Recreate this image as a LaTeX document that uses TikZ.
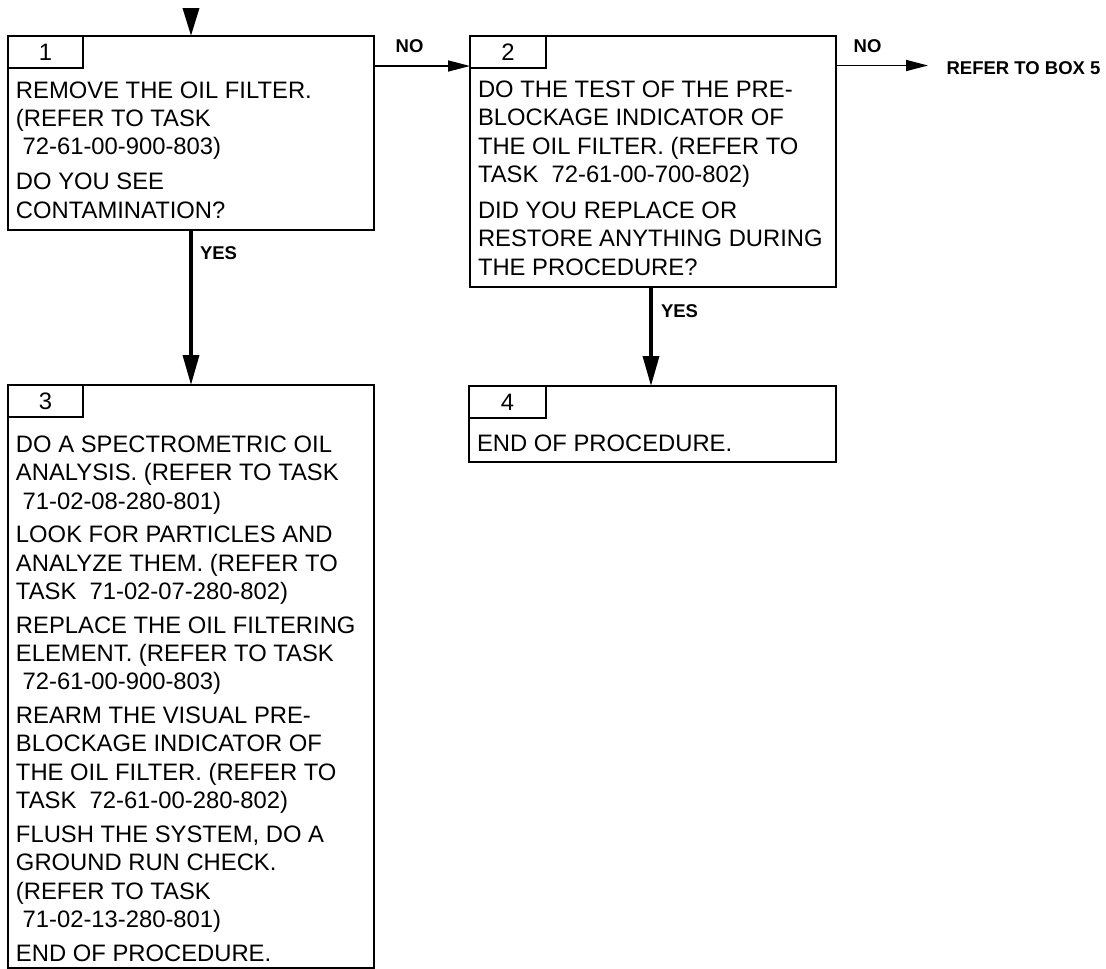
\documentclass[tikz,border=0pt]{standalone}
\usepackage{fontspec}
\setmainfont{Liberation Sans}
\usetikzlibrary{arrows.meta}
\tikzset{
  box/.style={draw, line width=2.2pt, inner sep=0pt, outer sep=0pt, anchor=north west},
  tabbox/.style={draw, line width=1.8pt, inner sep=0pt, outer sep=0pt, anchor=north west,
    minimum width=75pt, minimum height=32pt, font=\fontsize{23.8}{28.4}\selectfont},
  txt/.style={inner sep=0pt, outer sep=0pt, anchor=base west, font=\fontsize{23.8}{28.4}\selectfont},
  lbl/.style={inner sep=0pt, outer sep=0pt, anchor=base west, font=\fontsize{18.5}{22}\selectfont\bfseries},
  yesarrow/.style={line width=3.5pt, -{Triangle[length=30pt,width=16pt]}},
  noarrow/.style={line width=1.6pt, -{Triangle[length=22pt,width=11pt]}},
}
\newcommand{\boxtext}[1]{\parbox[t]{352pt}{\raggedright #1}}
\begin{document}
\begin{tikzpicture}[x=1pt,y=-1pt]
\useasboundingbox (0,0) rectangle (1106,969);

% boxes
\node[box, minimum width=366pt, minimum height=194pt] (b1) at (8,36) {};
\node[box, minimum width=366pt, minimum height=251pt] (b2) at (470,36) {};
\node[box, minimum width=366pt, minimum height=583pt] (b3) at (8,385) {};
\node[box, minimum width=367pt, minimum height=76pt] (b4) at (469,386) {};

% number tabs
\node[tabbox] (n1) at (b1.north west) {1};
\node[tabbox, minimum width=76pt] (n2) at (b2.north west) {2};
\node[tabbox] (n3) at (b3.north west) {3};
\node[tabbox, minimum width=77pt] (n4) at (b4.north west) {4};

% box texts
\node[txt] (x1) at (16,98) {\boxtext{REMOVE THE OIL FILTER.\\
(REFER TO TASK\\
\hspace*{0.28em}72-61-00-900-803)\\[6.6pt]
DO YOU SEE\\
CONTAMINATION?}};

\node[txt] (x2) at (478,97.5) {\boxtext{DO THE TEST OF THE PRE-\\
BLOCKAGE INDICATOR OF\\
THE OIL FILTER. (REFER TO\\
TASK\ \ 72-61-00-700-802)\\[7.2pt]
DID YOU REPLACE OR\\
RESTORE ANYTHING DURING\\
THE PROCEDURE?}};

\node[txt] (x3) at (16,452.3) {\boxtext{DO A SPECTROMETRIC OIL\\
ANALYSIS. (REFER TO TASK\\
\hspace*{0.28em}71-02-08-280-801)\\[5.2pt]
LOOK FOR PARTICLES AND\\
ANALYZE THEM. (REFER TO\\
TASK\ \ 71-02-07-280-802)\\[5.2pt]
REPLACE THE OIL FILTERING\\
ELEMENT. (REFER TO TASK\\
\hspace*{0.28em}72-61-00-900-803)\\[5.2pt]
REARM THE VISUAL PRE-\\
BLOCKAGE INDICATOR OF\\
THE OIL FILTER. (REFER TO\\
TASK\ \ 72-61-00-280-802)\\[5.2pt]
FLUSH THE SYSTEM, DO A\\
GROUND RUN CHECK.\\
(REFER TO TASK\\
\hspace*{0.28em}71-02-13-280-801)\\[5.2pt]
END OF PROCEDURE.}};

\node[txt] (x4) at (477,451.5) {\boxtext{END OF PROCEDURE.}};

% connectors
\coordinate (in1) at (191,8);
\draw[yesarrow, -{Triangle[length=28pt,width=16pt]}] (in1) -- (in1 |- b1.north);

\draw[noarrow] (b1.east |- 0,66) -- (b2.west |- 0,66);
\draw[yesarrow] (b1.south -| in1) -- (b3.north -| in1);

\coordinate (c2) at (651,0);
\draw[yesarrow] (b2.south -| c2) -- (b4.north -| c2);

\node[lbl] (ref5) at (946.6,74) {REFER TO BOX 5};
\coordinate (e2) at (928,65.5);
\draw[noarrow] (b2.east |- e2) -- (e2);

% labels
\node[lbl] (no1) at (395.7,52.5) {NO};
\node[lbl] (no2) at (853.7,52) {NO};
\node[lbl] (yes1) at (200,259) {YES};
\node[lbl] (yes2) at (661,317) {YES};
\end{tikzpicture}
\end{document}
